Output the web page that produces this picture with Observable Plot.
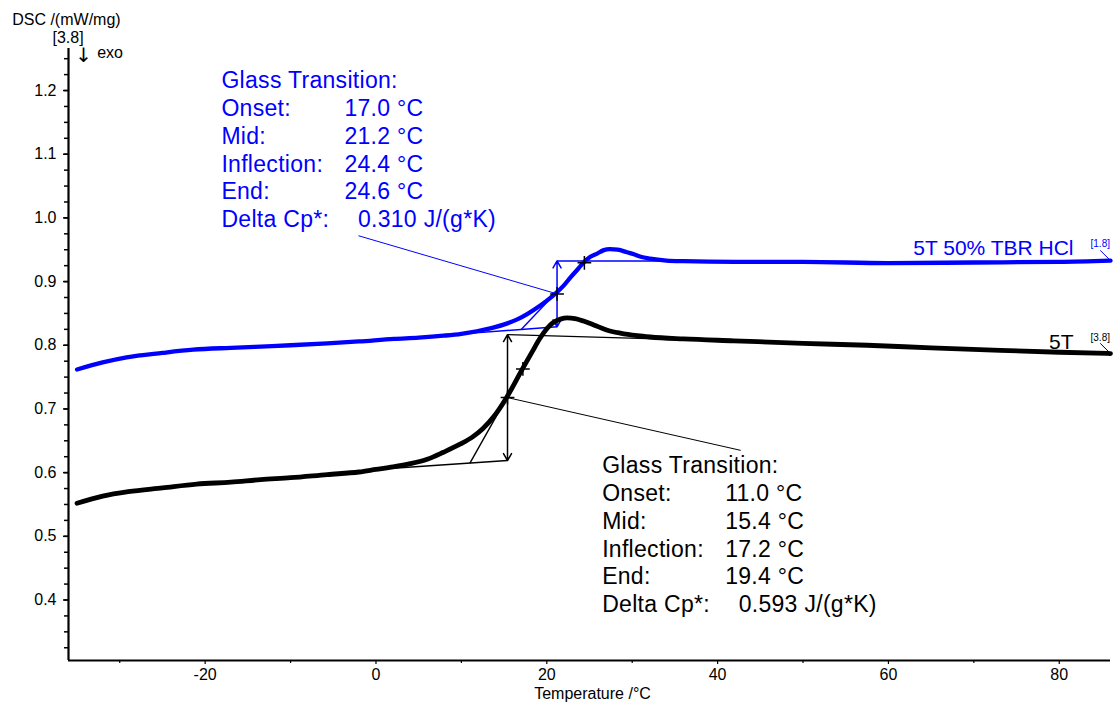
<!DOCTYPE html>
<html>
<head>
<meta charset="utf-8">
<script src="https://cdn.jsdelivr.net/npm/d3@7"></script>
<script src="https://cdn.jsdelivr.net/npm/@observablehq/plot@0.6"></script>
<style>
  html, body { margin: 0; padding: 0; background: #fff; }
  #chart svg { display: block; }
</style>
</head>
<body>
<div id="chart"></div>
<script>
// DSC heating runs: temperature (°C) and heat flow (mW/mg)
const temp5T = [-35, -32, -29, -25, -21, -17, -13.5, -10, -5.7, -2, 0, 2, 4, 6, 7.9, 9.9, 11.4, 12.5, 13.8, 15.3,
  17.2, 18.3, 19.2, 20, 20.8, 21.6, 22.4, 23.3, 24.3, 25.5, 27, 28.6, 30.6, 32.1, 36, 41.9, 50, 57.5, 65, 73.1, 80, 86];
const dsc5T = [0.552, 0.563, 0.570, 0.576, 0.582, 0.585, 0.589, 0.592, 0.597, 0.601, 0.605, 0.609, 0.614, 0.621, 0.632,
  0.645, 0.657, 0.669, 0.688, 0.718, 0.764, 0.790, 0.811, 0.826, 0.836, 0.841, 0.843, 0.842, 0.838, 0.832, 0.824, 0.819,
  0.815, 0.813, 0.810, 0.807, 0.803, 0.800, 0.796, 0.792, 0.789, 0.787];

const tempTBR = [-35, -32, -29.2, -25, -21.4, -17, -13.5, -10, -5.7, -2, 2.1, 5, 7.9, 10, 11.8, 13.5, 15.3, 16.6, 17.7,
  19.2, 20.2, 21, 22, 22.8, 23.6, 24.3, 25.1, 25.9, 26.6, 27.4, 28.3, 29.4, 30.2, 31, 32.1, 34, 36, 42, 50, 60, 70, 80, 86];
const dscTBR = [0.762, 0.773, 0.781, 0.788, 0.793, 0.796, 0.798, 0.800, 0.803, 0.806, 0.810, 0.812, 0.815, 0.818, 0.822,
  0.827, 0.834, 0.841, 0.849, 0.862, 0.872, 0.881, 0.894, 0.907, 0.919, 0.930, 0.939, 0.944, 0.949, 0.951, 0.950, 0.946,
  0.943, 0.939, 0.936, 0.933, 0.932, 0.931, 0.931, 0.929, 0.930, 0.931, 0.933];

// Glass transition evaluations, in order [5T 50% TBR HCl, 5T]
const tgNames = ["5T 50% TBR HCl", "5T"];
const tgColors = ["#0000ff", "#000000"];
const tgOnset = [17.0, 11.0];
const tgMid = [21.2, 15.4];
const tgInflection = [24.4, 17.2];
const tgEnd = [24.6, 19.4];
const tgDeltaCp = [0.310, 0.593];      // J/(g*K)
const heatingRate = 20;                // K/min
const tgBaseLow = [0.829, 0.619];      // lower baseline at the mid temperature
const tgBaseLowSlope = [0.0010, 0.0009];
const tgBaseHighSlope = [0.0, -0.00038];
const tgBaseLowFrom = [3, -1];
const tgBaseHighTo = [38, 42];
// where each result box sits (first column, last line) and where its leader line ends
const tgBoxX = [-18.1, 26.48];
const tgBoxY = [0.9854, 0.381];
const tgLeaderX = [-2.05, 42.7];
const tgLeaderY = [0.972, 0.635];

const sampleMass = ["[1.8]", "[3.8]"];   // mg
const xTicks = [-20, 0, 20, 40, 60, 80];
const xMinorTicks = [-30, -10, 10, 30, 50, 70];
const yTicks = [0.4, 0.5, 0.6, 0.7, 0.8, 0.9, 1.0, 1.1, 1.2];
const yMinorTicks = d3.range(13, 51).map(k => k * 0.025);

const xDomain = [-36, 86];
const yDomain = [0.305, 1.266];

const rows5T = temp5T.map((t, i) => ({T: t, dsc: dsc5T[i]}));
const rowsTBR = tempTBR.map((t, i) => ({T: t, dsc: dscTBR[i]}));
const curves = [rowsTBR, rows5T];

// Geometry of each step evaluation derived from the reported temperatures and ΔCp
const tg = tgNames.map((name, i) => {
  const step = tgDeltaCp[i] * heatingRate / 60;          // mW/mg
  const low = T => tgBaseLow[i] + tgBaseLowSlope[i] * (T - tgMid[i]);
  const high = T => tgBaseLow[i] + step + tgBaseHighSlope[i] * (T - tgMid[i]);
  const onsetY = low(tgOnset[i]);
  const endY = high(tgEnd[i]);
  const tan = T => onsetY + (T - tgOnset[i]) * (endY - onsetY) / (tgEnd[i] - tgOnset[i]);
  return {
    name, color: tgColors[i], i,
    lowFrom: {x: tgBaseLowFrom[i], y: low(tgBaseLowFrom[i])},
    lowTo: {x: tgMid[i], y: low(tgMid[i])},
    highFrom: {x: tgMid[i], y: high(tgMid[i])},
    highTo: {x: tgBaseHighTo[i], y: high(tgBaseHighTo[i])},
    onset: {x: tgOnset[i], y: onsetY},
    end: {x: tgEnd[i], y: endY},
    mid: {x: tgMid[i], y: low(tgMid[i]) + step / 2},
    infl: {x: tgInflection[i], y: tan(tgInflection[i])},
    leader: {x: tgLeaderX[i], y: tgLeaderY[i]},
    box: {x: tgBoxX[i], y: tgBoxY[i]},
    labels: "Glass Transition:\nOnset:\nMid:\nInflection:\nEnd:\nDelta Cp*:",
    values: [tgOnset[i], tgMid[i], tgInflection[i], tgEnd[i]].map(v => v.toFixed(1) + " °C").join("\n"),
    cp: tgDeltaCp[i].toFixed(3) + " J/(g*K)"
  };
});

const boxFont = 23;
const boxLine = 27.8;

const marks = [];

// axes: minor and major ticks, then the axis lines
marks.push(
  Plot.axisY({ticks: yMinorTicks, tickSize: 4, tickFormat: () => "", strokeWidth: 1.5}),
  Plot.axisY({ticks: yTicks, tickSize: 5, tickPadding: 7, tickFormat: d3.format(".1f"), fontSize: 16, strokeWidth: 1.5, label: null}),
  Plot.axisX({ticks: xMinorTicks, tickSize: 3, tickFormat: () => "", strokeWidth: 1.2}),
  Plot.axisX({ticks: xTicks, tickSize: 4, tickPadding: 4, tickFormat: d => String(d), fontSize: 16, strokeWidth: 1.2, label: null}),
  Plot.ruleX([xDomain[0]], {stroke: "black", strokeWidth: 2.2}),
  Plot.ruleY([yDomain[0]], {stroke: "black", strokeWidth: 2.2})
);

// step evaluation construction lines for each run
tg.forEach(d => {
  const c = d.color;
  marks.push(
    Plot.link([d], {x1: d => d.lowFrom.x, y1: d => d.lowFrom.y, x2: d => d.lowTo.x, y2: d => d.lowTo.y, stroke: c, strokeWidth: 1.4}),
    Plot.link([d], {x1: d => d.highFrom.x, y1: d => d.highFrom.y, x2: d => d.highTo.x, y2: d => d.highTo.y, stroke: c, strokeWidth: 1.4}),
    Plot.link([d], {x1: d => d.onset.x, y1: d => d.onset.y, x2: d => d.end.x, y2: d => d.end.y, stroke: c, strokeWidth: 1.4}),
    Plot.arrow([d], {x1: d => d.mid.x, y1: d => d.mid.y, x2: d => d.lowTo.x, y2: d => d.lowTo.y, stroke: c, strokeWidth: 1.5, headLength: 8}),
    Plot.arrow([d], {x1: d => d.mid.x, y1: d => d.mid.y, x2: d => d.highFrom.x, y2: d => d.highFrom.y, stroke: c, strokeWidth: 1.5, headLength: 8}),
    Plot.link([d], {x1: d => d.mid.x, y1: d => d.mid.y, x2: d => d.leader.x, y2: d => d.leader.y, stroke: c, strokeWidth: 1})
  );
});

// the two DSC curves
curves.forEach((rows, i) => {
  marks.push(Plot.line(rows, {x: "T", y: "dsc", stroke: tgColors[i], strokeWidth: i === 1 ? 4.8 : 4.3, curve: "monotone-x"}));
});

// evaluation markers on the curves
marks.push(Plot.dot(tg.flatMap(d => [d.mid, d.infl]), {x: "x", y: "y", symbol: "plus", r: 4.5, stroke: "black", strokeWidth: 1.5}));

// result boxes
tg.forEach(d => {
  marks.push(
    Plot.text([d], {x: d => d.box.x, y: d => d.box.y, text: "labels", textAnchor: "start", lineAnchor: "bottom",
      lineHeight: boxLine / boxFont, fontSize: boxFont, fill: d.color}),
    Plot.text([d], {x: d => d.box.x, y: d => d.box.y, text: "values", textAnchor: "start", lineAnchor: "bottom",
      lineHeight: boxLine / boxFont, fontSize: boxFont, fill: d.color, dx: 123, dy: -boxLine}),
    Plot.text([d], {x: d => d.box.x, y: d => d.box.y, text: "cp", textAnchor: "start", lineAnchor: "bottom",
      fontSize: boxFont, fill: d.color, dx: 136.5})
  );
});

// curve names and sample masses at the right end
curves.forEach((rows, i) => {
  const last = rows[rows.length - 1];
  const nameY = i === 0 ? 0.941 : 0.7945;
  const massY = i === 0 ? 0.954 : 0.8065;
  marks.push(
    Plot.text([tgNames[i]], {x: 81.67, y: nameY, textAnchor: "end", lineAnchor: "bottom", fontSize: 21, fill: tgColors[i]}),
    Plot.text([sampleMass[i]], {x: 83.66, y: massY, textAnchor: "start", lineAnchor: "bottom", fontSize: 10, fill: tgColors[i]}),
    Plot.link([last], {x1: d => d.T - 1.2, y1: d => d.dsc + 0.016, x2: "T", y2: "dsc", stroke: tgColors[i], strokeWidth: 1})
  );
});

// y-axis title, mass of the reference sample and exo direction
marks.push(
  Plot.text(["DSC /(mW/mg)"], {frameAnchor: "top-left", dx: -56.3, dy: -24, textAnchor: "start", lineAnchor: "bottom", fontSize: 16}),
  Plot.text([sampleMass[1]], {frameAnchor: "top-left", dx: -0.5, dy: -5.5, textAnchor: "middle", lineAnchor: "bottom", fontSize: 16}),
  Plot.text(["↓"], {frameAnchor: "top-left", dx: 15, dy: 13, textAnchor: "middle", lineAnchor: "bottom", fontSize: 20, fontFamily: "'DejaVu Sans', sans-serif"}),
  Plot.text(["exo"], {frameAnchor: "top-left", dx: 28.7, dy: 9, textAnchor: "start", lineAnchor: "bottom", fontSize: 16}),
  Plot.text(["Temperature /°C"], {frameAnchor: "bottom", dx: 3, dy: 38, textAnchor: "middle", lineAnchor: "bottom", fontSize: 16})
);

const chart = Plot.plot({
  width: 1115,
  height: 704,
  marginLeft: 68,
  marginRight: 5,
  marginTop: 48,
  marginBottom: 44,
  style: {fontFamily: "'Liberation Sans', Arial, sans-serif", fontSize: "16px", background: "#fff", color: "#000"},
  x: {domain: xDomain, label: null},
  y: {domain: yDomain, label: null},
  marks
});

// the result boxes are set a little wider than the axis text
d3.select(chart).selectAll("g").filter(function () {
  const f = this.getAttribute("font-size");
  return f && parseFloat(f) === boxFont;
}).attr("letter-spacing", "0.3px");

document.getElementById("chart").appendChild(chart);
</script>
</body>
</html>
